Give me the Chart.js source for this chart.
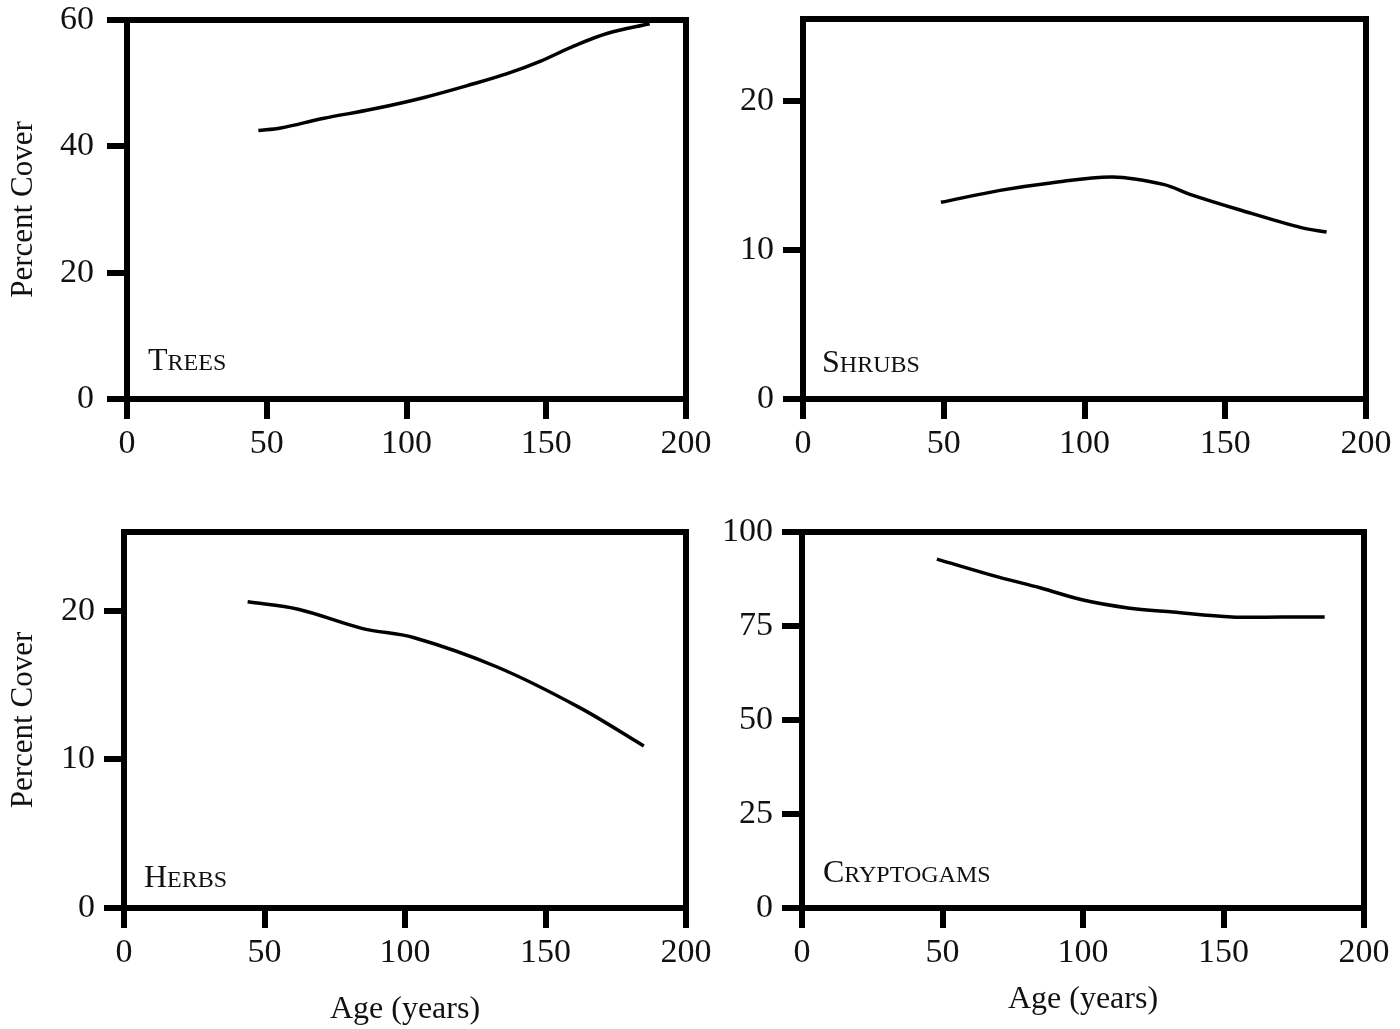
<!DOCTYPE html>
<html>
<head>
<meta charset="utf-8">
<script src="https://cdn.jsdelivr.net/npm/chart.js@4.4.1/dist/chart.umd.min.js"></script>
<style>
  html, body { margin: 0; padding: 0; background: #fff; }
  #wrap { position: relative; width: 1400px; height: 1029px; }
  #wrap canvas { position: absolute; left: 0; top: 0; }
</style>
</head>
<body>
<div id="wrap">
  <canvas id="trees" width="1400" height="1029"></canvas>
  <canvas id="shrubs" width="1400" height="1029"></canvas>
  <canvas id="herbs" width="1400" height="1029"></canvas>
  <canvas id="crypto" width="1400" height="1029"></canvas>
</div>
<script>
// traced points: stand age (years) and percent cover
const treesAge = [47, 55, 70, 88, 106, 124, 136, 148, 160, 172, 187];
const treesCover = [42.5, 42.9, 44.4, 45.9, 47.7, 49.9, 51.5, 53.5, 55.9, 57.9, 59.4];

const shrubsAge = [49, 70, 88, 110, 128, 138, 155, 177, 186];
const shrubsCover = [13.2, 14.0, 14.5, 14.9, 14.4, 13.7, 12.7, 11.5, 11.2];

const herbsAge = [44, 62, 85, 103, 133, 162, 185];
const herbsCover = [20.6, 20.1, 18.8, 18.2, 16.2, 13.5, 10.9];

const cryptoAge = [48, 70, 85, 100, 116, 132, 153, 171, 186];
const cryptoCover = [92.8, 88.0, 85.1, 81.9, 79.8, 78.7, 77.4, 77.4, 77.4];

// tick labels
const ageTicks = [0, 50, 100, 150, 200];
const treesTicks = [0, 20, 40, 60];
const shrubsTicks = [0, 10, 20];
const herbsTicks = [0, 10, 20];
const cryptoTicks = [0, 25, 50, 75, 100];

const serif = '"Liberation Serif", "Times New Roman", serif';
const ink = '#111';

// thick box round the plot area + panel name in small caps
const frame = {
  id: 'frame',
  afterDatasetsDraw(chart, args, opts) {
    const { ctx, chartArea: a } = chart;
    ctx.save();
    ctx.strokeStyle = '#000';
    ctx.lineWidth = 6;
    ctx.strokeRect(a.left, a.top, a.right - a.left, a.bottom - a.top);

    const x = a.left + opts.dx, y = a.bottom - opts.dy;
    ctx.fillStyle = ink;
    ctx.textBaseline = 'alphabetic';
    ctx.textAlign = 'left';
    ctx.font = '32px ' + serif;
    ctx.fillText(opts.name[0], x, y);
    const w = ctx.measureText(opts.name[0]).width;
    ctx.font = '24px ' + serif;
    ctx.fillText(opts.name.slice(1).toUpperCase(), x + w, y);
    ctx.restore();
  }
};

function tickGrid() {
  return { drawOnChartArea: false, drawTicks: true, tickLength: 20, lineWidth: 6, color: '#000' };
}

function makePanel(id, p) {
  new Chart(document.getElementById(id), {
    type: 'line',
    data: {
      datasets: [{
        data: p.age.map((a, i) => ({ x: a, y: p.cover[i] })),
        borderColor: '#000',
        borderWidth: 3.5,
        pointRadius: 0,
        tension: 0.35,
        fill: false
      }]
    },
    options: {
      responsive: false,
      animation: false,
      devicePixelRatio: 1,
      layout: {
        padding: {
          left: p.left - p.yWidth,
          top: p.top,
          right: 1400 - p.right,
          bottom: 1029 - p.bottom - p.xHeight
        }
      },
      plugins: {
        legend: { display: false },
        tooltip: { enabled: false },
        frame: { name: p.name, dx: p.dx, dy: p.dy }
      },
      scales: {
        x: {
          type: 'linear',
          min: 0,
          max: 200,
          afterBuildTicks: s => { s.ticks = ageTicks.map(v => ({ value: v })); },
          afterFit: s => { s.height = p.xHeight; s.paddingLeft = 0; s.paddingRight = 0; },
          grid: tickGrid(),
          border: { display: false },
          ticks: { font: { family: serif, size: 34 }, color: ink, padding: 5, maxRotation: 0, autoSkip: false },
          title: {
            display: p.xTitle,
            text: 'Age (years)',
            color: ink,
            font: { family: serif, size: 32, lineHeight: 1 },
            padding: { top: 0, bottom: 0 }
          }
        },
        y: {
          min: 0,
          max: p.yMax,
          afterBuildTicks: s => { s.ticks = p.yTicks.map(v => ({ value: v })); },
          afterFit: s => { s.width = p.yWidth; s.paddingTop = 0; s.paddingBottom = 0; },
          grid: tickGrid(),
          border: { display: false },
          ticks: { font: { family: serif, size: 34 }, color: ink, padding: p.yPad },
          title: {
            display: p.yTitle,
            text: 'Percent Cover',
            color: ink,
            font: { family: serif, size: 31, lineHeight: 1 },
            padding: { top: 0, bottom: 0 }
          }
        }
      }
    },
    plugins: [frame]
  });
}

makePanel('trees', {
  age: treesAge, cover: treesCover, yTicks: treesTicks, yMax: 60, name: 'Trees',
  left: 127, top: 20, right: 686, bottom: 399, yWidth: 119, xHeight: 70,
  yPad: 13, yTitle: true, xTitle: false, dx: 21, dy: 29
});
makePanel('shrubs', {
  age: shrubsAge, cover: shrubsCover, yTicks: shrubsTicks, yMax: 25.5, name: 'Shrubs',
  left: 803, top: 19, right: 1366, bottom: 399, yWidth: 100, xHeight: 70,
  yPad: 9, yTitle: false, xTitle: false, dx: 19, dy: 27
});
makePanel('herbs', {
  age: herbsAge, cover: herbsCover, yTicks: herbsTicks, yMax: 25.3, name: 'Herbs',
  left: 124, top: 532, right: 686, bottom: 908, yWidth: 116, xHeight: 118,
  yPad: 9, yTitle: true, xTitle: true, dx: 20, dy: 21
});
makePanel('crypto', {
  age: cryptoAge, cover: cryptoCover, yTicks: cryptoTicks, yMax: 100, name: 'Cryptogams',
  left: 802, top: 532, right: 1364, bottom: 908, yWidth: 100, xHeight: 108,
  yPad: 9, yTitle: false, xTitle: true, dx: 21, dy: 26
});
</script>
</body>
</html>
